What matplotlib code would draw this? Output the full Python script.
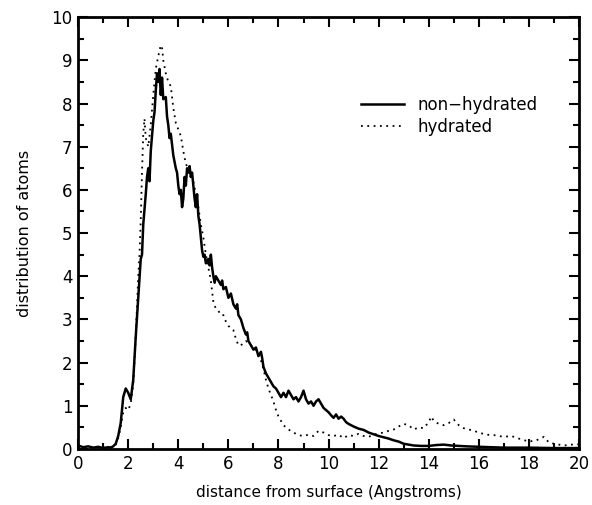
import numpy as np
import matplotlib
matplotlib.use('Agg')
import matplotlib.pyplot as plt
from matplotlib.ticker import MultipleLocator

ffont = {'family': 'DejaVu Sans', 'size': 12}
matplotlib.rc('font', **ffont)

# non-hydrated run (solid)
x_dry = [0.0, 0.2, 0.4, 0.6, 0.8, 1.0, 1.2, 1.3, 1.4, 1.5, 1.6, 1.7, 1.8, 1.9, 2.0, 2.1,
         2.2, 2.3, 2.4, 2.5, 2.55, 2.6, 2.7, 2.75, 2.8, 2.85, 2.9, 3.0, 3.05, 3.1, 3.15,
         3.2, 3.25, 3.3, 3.35, 3.4, 3.5, 3.55, 3.6, 3.65, 3.7, 3.8, 3.9, 3.95, 4.0, 4.05,
         4.1, 4.15, 4.2, 4.25, 4.3, 4.35, 4.4, 4.45, 4.5, 4.55, 4.6, 4.65, 4.7, 4.75, 4.8,
         4.85, 4.9, 4.95, 5.0, 5.05, 5.1, 5.2, 5.25, 5.3, 5.35, 5.4, 5.45, 5.5, 5.6, 5.7,
         5.75, 5.8, 5.9, 6.0, 6.1, 6.2, 6.3, 6.35, 6.4, 6.5, 6.6, 6.7, 6.75, 6.8, 6.9, 7.0,
         7.1, 7.2, 7.3, 7.35, 7.4, 7.5, 7.6, 7.7, 7.8, 7.9, 8.0, 8.1, 8.2, 8.3, 8.4, 8.5,
         8.6, 8.7, 8.8, 8.9, 9.0, 9.1, 9.2, 9.3, 9.4, 9.5, 9.6, 9.7, 9.8, 9.9, 10.0, 10.1,
         10.2, 10.3, 10.4, 10.5, 10.6, 10.7, 10.8, 10.9, 11.0, 11.2, 11.4, 11.6, 11.8, 12.0,
         12.2, 12.4, 12.6, 12.8, 13.0, 13.2, 13.4, 13.7, 14.0, 14.3, 14.6, 14.9, 15.2, 15.5,
         16.0, 16.5, 17.0, 18.0, 19.0, 20.0]
y_dry = [0.08, 0.04, 0.06, 0.03, 0.05, 0.02, 0.04, 0.03, 0.06, 0.12, 0.3, 0.6, 1.2, 1.4, 1.3, 1.15,
         1.6, 2.6, 3.5, 4.4, 4.5, 5.2, 5.9, 6.3, 6.5, 6.2, 6.9, 7.6, 7.8, 8.3, 8.7,
         8.5, 8.8, 8.2, 8.6, 8.1, 8.15, 7.7, 7.5, 7.2, 7.3, 6.8, 6.5, 6.4, 6.1, 5.9,
         6.0, 5.6, 5.8, 6.3, 6.1, 6.5, 6.4, 6.55, 6.3, 6.4, 6.1, 5.8, 5.6, 5.9, 5.4,
         5.2, 4.9, 4.6, 4.45, 4.5, 4.3, 4.4, 4.25, 4.5, 4.2, 4.0, 3.85, 4.0, 3.9, 3.8,
         3.9, 3.7, 3.75, 3.5, 3.6, 3.35, 3.25, 3.35, 3.1, 3.0, 2.8, 2.65, 2.7, 2.5, 2.4, 2.3,
         2.35, 2.15, 2.25, 2.1, 1.9, 1.75, 1.65, 1.55, 1.45, 1.4, 1.3, 1.2, 1.3, 1.2, 1.35, 1.25,
         1.15, 1.2, 1.1, 1.2, 1.35, 1.15, 1.05, 1.1, 1.0, 1.1, 1.15, 1.05, 0.95, 0.9, 0.85, 0.78,
         0.72, 0.8, 0.7, 0.75, 0.7, 0.62, 0.58, 0.55, 0.52, 0.47, 0.44, 0.38, 0.34, 0.3,
         0.27, 0.24, 0.2, 0.17, 0.12, 0.1, 0.08, 0.07, 0.07, 0.09, 0.1, 0.08, 0.07, 0.06,
         0.05, 0.04, 0.03, 0.03, 0.02, 0.02]

# hydrated run (dotted)
x_wet = [0.0, 0.5, 1.0, 1.3, 1.5, 1.6, 1.7, 1.8, 1.9, 2.0, 2.1, 2.2, 2.3, 2.4, 2.45, 2.5,
         2.55, 2.6, 2.65, 2.7, 2.8, 2.9, 3.0, 3.1, 3.2, 3.3, 3.35, 3.4, 3.5, 3.6, 3.7, 3.8,
         3.9, 4.0, 4.1, 4.2, 4.3, 4.4, 4.5, 4.6, 4.7, 4.8, 4.9, 5.0, 5.1, 5.2, 5.3, 5.4,
         5.5, 5.6, 5.7, 5.8, 5.9, 6.0, 6.1, 6.2, 6.3, 6.4, 6.5, 6.6, 6.7, 6.8, 6.9, 7.0,
         7.1, 7.2, 7.3, 7.4, 7.5, 7.6, 7.7, 7.8, 7.9, 8.0, 8.1, 8.2, 8.3, 8.4, 8.6, 8.8,
         9.0, 9.2, 9.4, 9.6, 9.8, 10.0, 10.2, 10.4, 10.6, 10.8, 11.0, 11.2, 11.4, 11.6, 11.8,
         12.0, 12.2, 12.4, 12.6, 12.8, 13.0, 13.2, 13.4, 13.6, 13.8, 14.0, 14.1, 14.2, 14.4,
         14.6, 14.8, 15.0, 15.2, 15.4, 15.6, 15.8, 16.0, 16.3, 16.6, 17.0, 17.3, 17.6, 18.0,
         18.3, 18.6, 18.8, 19.0, 19.4, 19.7, 20.0]
y_wet = [0.05, 0.04, 0.03, 0.04, 0.1, 0.25, 0.5, 0.85, 0.95, 0.9, 1.05, 1.5, 2.6, 4.0, 4.5, 5.3,
         6.4, 7.3, 7.65, 7.2, 7.0, 7.5, 8.2, 8.8, 9.1, 9.35, 9.3, 9.0, 8.7, 8.5, 8.4, 7.9,
         7.55, 7.4, 7.25, 6.9, 6.6, 6.5, 6.3, 6.2, 5.9, 5.6, 5.2, 4.9, 4.5, 4.2, 3.9, 3.4,
         3.25, 3.2, 3.1, 3.1, 2.95, 2.85, 2.8, 2.75, 2.55, 2.4, 2.4, 2.45, 2.5, 2.45, 2.4, 2.35,
         2.3, 2.2, 2.05, 1.85, 1.6, 1.4, 1.25, 1.1, 0.9, 0.75, 0.65, 0.55, 0.5, 0.45, 0.38, 0.32,
         0.3, 0.33, 0.3, 0.42, 0.38, 0.32, 0.3, 0.33, 0.25, 0.32, 0.3, 0.35, 0.3, 0.28, 0.33,
         0.36, 0.38, 0.42, 0.45, 0.52, 0.58, 0.55, 0.45, 0.5, 0.48, 0.62, 0.75, 0.65, 0.58,
         0.55, 0.6, 0.68, 0.55, 0.48, 0.45, 0.42, 0.38, 0.33, 0.32, 0.28, 0.3, 0.24, 0.17,
         0.2, 0.28, 0.15, 0.12, 0.08, 0.1, 0.11]

fig = plt.figure(figsize=(5.92, 5.05), dpi=100)
ax = fig.add_axes([0.132, 0.111, 0.846, 0.855])

ax.plot(x_dry, y_dry, color='black', linewidth=1.8, label='non\u2212hydrated')
ax.plot(x_wet, y_wet, color='black', linewidth=1.3, linestyle=(0, (1, 2.5)), label='hydrated')

ax.set_xlim(0, 20)
ax.set_ylim(0, 10)
ax.xaxis.set_major_locator(MultipleLocator(2))
ax.xaxis.set_minor_locator(MultipleLocator(1))
ax.yaxis.set_major_locator(MultipleLocator(1))
ax.yaxis.set_minor_locator(MultipleLocator(0.5))
ax.tick_params(which='both', direction='in', top=True, right=True, width=1.5)
ax.tick_params(which='major', length=7, labelsize=12, pad=4)
ax.tick_params(which='minor', length=4)
for s in ax.spines.values():
    s.set_linewidth(2)

ax.set_xlabel('distance from surface (Angstroms)', fontsize=11, labelpad=9)
ax.set_ylabel('distribution of atoms', fontsize=11.5, labelpad=14)

ax.legend(loc='upper left', bbox_to_anchor=(0.535, 0.853), frameon=False,
          handlelength=2.6, fontsize=12, labelspacing=0.25)

plt.savefig('out.png', dpi=100)
